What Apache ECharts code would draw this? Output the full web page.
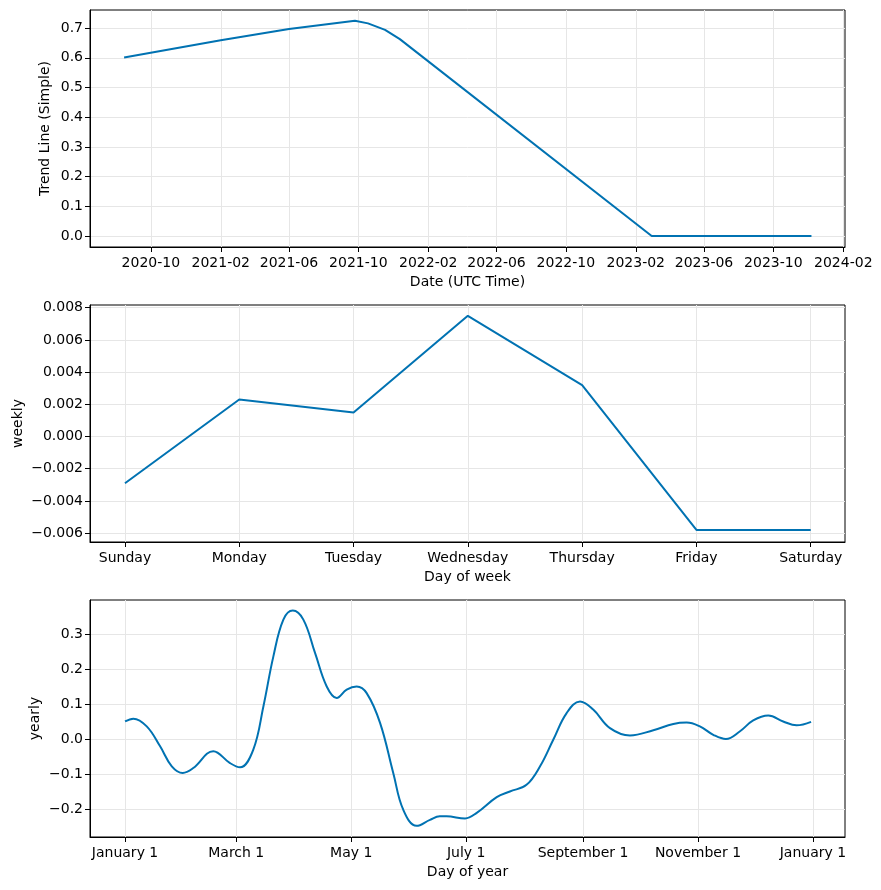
<!DOCTYPE html>
<html>
<head>
<meta charset="utf-8">
<script src="https://cdn.jsdelivr.net/npm/echarts@6/dist/echarts.min.js"></script>
<style>
html,body{margin:0;padding:0;background:#fff}
#main{width:881px;height:890px}
</style>
</head>
<body>
<div id="main"></div>
<script>
// trend panel
var trendDates = ['2020-08-15','2021-02-01','2021-06-01','2021-09-25','2021-10-18','2021-11-17','2021-12-13','2023-03-01','2023-12-07']
var trendValues = [0.601, 0.659, 0.697, 0.725, 0.716, 0.694, 0.663, 0.0, 0.0]
var trendTickDates = ['2020-10-01','2021-02-01','2021-06-01','2021-10-01','2022-02-01','2022-06-01','2022-10-01','2023-02-01','2023-06-01','2023-10-01','2024-02-01']
var trendTicksY = [0, 0.1, 0.2, 0.3, 0.4, 0.5, 0.6, 0.7]

// weekly panel
var weekDays = ['Sunday','Monday','Tuesday','Wednesday','Thursday','Friday','Saturday']
var weeklyValues = [-0.0029, 0.0023, 0.0015, 0.0075, 0.0032, -0.0058, -0.0058]
var weeklyTicksY = [-0.006, -0.004, -0.002, 0, 0.002, 0.004, 0.006, 0.008]

// yearly panel
var yearDays = [0, 4.4, 11.5, 18.6, 24.8, 30.6, 36.2, 46.8, 55.7, 61, 68, 73.4, 78.7, 84, 89, 94.6, 100.8, 107, 112.3, 117.6, 122.9, 128.2, 135.3, 142.3, 147.6, 154.7, 161.8, 167, 170.6, 180.4, 186.6, 197.2, 204.2, 213, 220.2, 227.2, 234.3, 241.4, 248.4, 257.3, 267.9, 280.3, 290.9, 298, 305, 312.1, 318.8, 326.3, 333.3, 341.3, 349.2, 356.3, 364]
var yearlyValues = [0.050, 0.058, 0.036, -0.021, -0.078, -0.097, -0.083, -0.035, -0.069, -0.081, -0.031, 0.093, 0.236, 0.341, 0.367, 0.341, 0.246, 0.150, 0.117, 0.141, 0.150, 0.131, 0.046, -0.097, -0.202, -0.248, -0.231, -0.221, -0.221, -0.227, -0.211, -0.166, -0.150, -0.131, -0.078, -0.002, 0.074, 0.107, 0.084, 0.031, 0.010, 0.025, 0.043, 0.047, 0.036, 0.012, 0.000, 0.022, 0.053, 0.067, 0.050, 0.039, 0.049]
var yearTickDays = [0, 59, 120, 181, 243, 304, 365]
var yearTickLabels = ['January 1','March 1','May 1','July 1','September 1','November 1','January 1']
var yearlyTicksY = [-0.2, -0.1, 0, 0.1, 0.2, 0.3]

var FONT = 'DejaVu Sans'
var FSIZE = 14
var LINE = '#0072B2'

function utc(s) {
	var p = s.split('-')
	return Date.UTC(+p[0], +p[1] - 1, +p[2])
}
function fmtNum(v, d) {
	var s = (+v).toFixed(d)
	if (Math.abs(v) < 1e-12) s = (0).toFixed(d)
	return s.replace('-', '\u2212')
}
function pad(n) { return n < 10 ? '0' + n : '' + n }

function axisBase(gridIndex, ticks) {
	return {
		type: 'value',
		gridIndex: gridIndex,
		axisLine: {show: true, onZero: false, lineStyle: {color: '#000', width: 1}},
		axisTick: {show: true, inside: false, length: 5, customValues: ticks, lineStyle: {color: '#000', width: 1}},
		axisLabel: {color: '#000', fontFamily: FONT, fontSize: FSIZE, customValues: ticks},
		splitLine: {show: true, lineStyle: {color: '#e6e6e6', width: 1}},
		nameLocation: 'middle',
		nameMoveOverlap: false,
		nameTextStyle: {color: '#000', fontFamily: FONT, fontSize: FSIZE}
	}
}

var trendData = []
for (var i = 0; i < trendDates.length; i++) {
	trendData.push([utc(trendDates[i]), trendValues[i]])
}
var trendTicksX = []
for (var i = 0; i < trendTickDates.length; i++) {
	trendTicksX.push(utc(trendTickDates[i]))
}
var weeklyData = []
for (var i = 0; i < weeklyValues.length; i++) {
	weeklyData.push([i, weeklyValues[i]])
}
var yearlyData = []
for (var i = 0; i < yearDays.length; i++) {
	yearlyData.push([yearDays[i], yearlyValues[i]])
}

// x axes
var x0 = axisBase(0, trendTicksX)
x0.min = utc('2020-06-16')
x0.max = utc('2024-02-04')
x0.name = 'Date (UTC Time)'
x0.nameGap = 28
x0.axisLabel.margin = 9
x0.axisLabel.formatter = function (v) {
	var d = new Date(v)
	return d.getUTCFullYear() + '-' + pad(d.getUTCMonth() + 1)
}

var x1 = axisBase(1, [0, 1, 2, 3, 4, 5, 6])
x1.min = -0.306
x1.max = 6.3
x1.name = 'Day of week'
x1.nameGap = 28
x1.axisLabel.margin = 9
x1.axisLabel.formatter = function (v) { return weekDays[Math.round(v)] }

var x2 = axisBase(2, yearTickDays)
x2.min = -18.6
x2.max = 382
x2.name = 'Day of year'
x2.nameGap = 28
x2.axisLabel.margin = 9
x2.axisLabel.formatter = function (v) {
	for (var i = 0; i < yearTickDays.length; i++) {
		if (Math.abs(yearTickDays[i] - v) < 0.01) return yearTickLabels[i]
	}
	return ''
}

// y axes
var y0 = axisBase(0, trendTicksY)
y0.min = -0.037
y0.max = 0.761
y0.name = 'Trend Line (Simple)'
y0.nameGap = 38
y0.axisLabel.margin = 7
y0.axisLabel.formatter = function (v) { return fmtNum(v, 1) }

var y1 = axisBase(1, weeklyTicksY)
y1.min = -0.00655
y1.max = 0.00817
y1.name = 'weekly'
y1.nameGap = 65
y1.axisLabel.margin = 7
y1.axisLabel.formatter = function (v) { return fmtNum(v, 3) }

var y2 = axisBase(2, yearlyTicksY)
y2.min = -0.28
y2.max = 0.397
y2.name = 'yearly'
y2.nameGap = 48
y2.axisLabel.margin = 7
y2.axisLabel.formatter = function (v) { return fmtNum(v, 1) }

var gridStyle = {show: true, borderColor: '#000', borderWidth: 1, backgroundColor: 'transparent', outerBoundsMode: 'none', containLabel: false}

function grid(top) {
	var g = {left: 90, right: 36, top: top, height: 237}
	for (var k in gridStyle) g[k] = gridStyle[k]
	return g
}

function lineSeries(idx, data, smooth) {
	return {
		type: 'line',
		xAxisIndex: idx,
		yAxisIndex: idx,
		data: data,
		smooth: smooth,
		showSymbol: false,
		symbol: 'none',
		lineStyle: {color: LINE, width: 2},
		itemStyle: {color: LINE}
	}
}

var myChart = echarts.init(document.getElementById('main'), null, {renderer: 'canvas'})
myChart.setOption({
	animation: false,
	backgroundColor: '#fff',
	textStyle: {fontFamily: FONT},
	grid: [grid(10), grid(305), grid(600)],
	xAxis: [x0, x1, x2],
	yAxis: [y0, y1, y2],
	series: [
		lineSeries(0, trendData, false),
		lineSeries(1, weeklyData, false),
		lineSeries(2, yearlyData, 0.4)
	]
})
</script>
</body>
</html>
